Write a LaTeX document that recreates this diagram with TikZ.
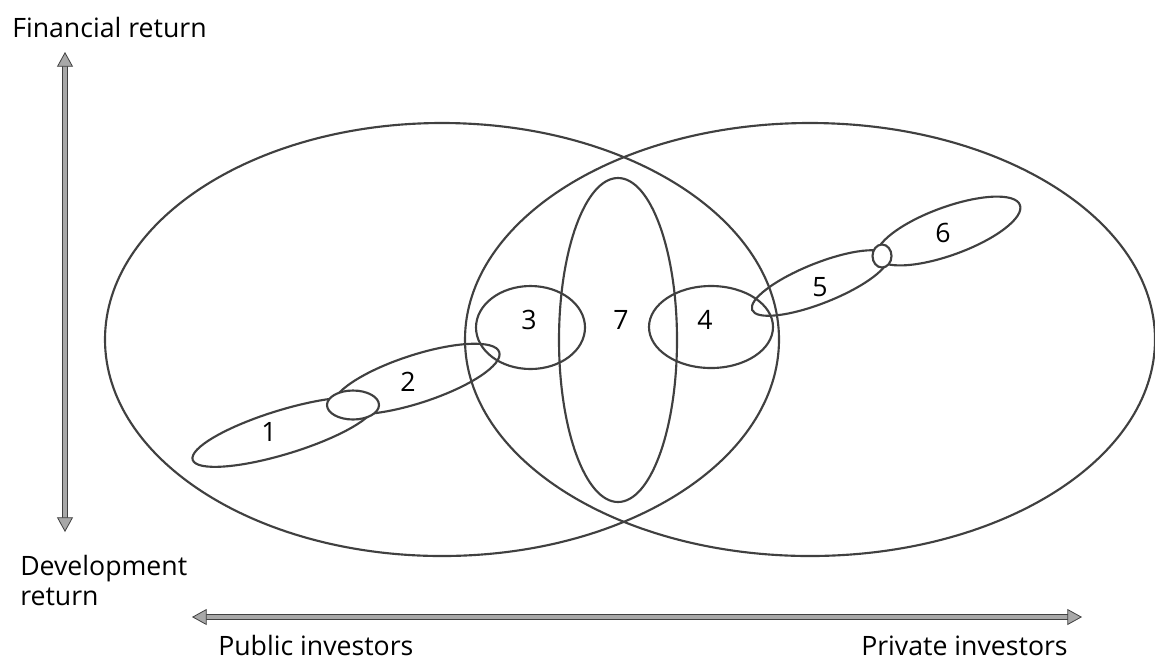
\documentclass[tikz,border=0pt]{standalone}
\usepackage{fontspec}
\setmainfont{Open Sans}
\usetikzlibrary{arrows.meta}
\definecolor{EllLine}{HTML}{404040}
\definecolor{AxisFill}{HTML}{A8A8A8}
\begin{document}
\begin{tikzpicture}[x=0.75pt,y=-0.75pt,
  ell/.style={draw=EllLine,line width=1.6pt},
  link/.style={ell,fill=white},
  axis/.style={draw=EllLine,line width=0.7pt,double=AxisFill,double distance=2.6pt,
    {Triangle[length=11pt,width=12pt,line width=0.6pt,fill=AxisFill]}-{Triangle[length=11pt,width=12pt,line width=0.6pt,fill=AxisFill]}},
  lbl/.style={font=\fontsize{20}{22.5}\selectfont,inner sep=0pt}]
\path[use as bounding box] (0,0) rectangle (1155,662);
% the two groups of investors
\draw[ell] (442,339.5) ellipse (337 and 216.5);
\draw[ell] (810,339.5) ellipse (345 and 216.5);
% overlap zone
\draw[ell] (618,340) ellipse (59 and 162);
\draw[ell] (530.5,327.5) ellipse (54.5 and 41.5);
\draw[ell] (711,327) ellipse (62 and 41);
% chain on the left
\draw[ell,rotate around={17:(283.5,432)}] (283.5,432) ellipse (95 and 22);
\draw[ell,rotate around={18:(416.5,379)}] (416.5,379) ellipse (87 and 24);
\draw[link] (353,405) ellipse (26 and 14.5);
% chain on the right
\draw[ell,rotate around={21.7:(820,283)}] (820,283) ellipse (73 and 20);
\draw[ell,rotate around={20:(948.5,231)}] (948.5,231) ellipse (76 and 24);
\draw[link] (882,256) ellipse (9.5 and 11.5);
% numbers
\node[lbl] (n1) at (269,432) {1};
\node[lbl] (n2) at (408,382) {2};
\node[lbl] (n3) at (529,320) {3};
\node[lbl] (n7) at (621,320) {7};
\node[lbl] (n4) at (705,320) {4};
\node[lbl] (n5) at (820,287) {5};
\node[lbl] (n6) at (943,233) {6};
% axes
\coordinate (ftop) at (65,52);
\coordinate (dbot) at (65,532);
\coordinate (publ) at (192,617);
\coordinate (privr) at (1082,617);
\draw[axis] (dbot) -- (ftop);
\draw[axis] (publ) -- (privr);
\node[lbl,anchor=base west] (fin) at (12,37) {Financial return};
\node[lbl,anchor=north west,align=left] (dev) at (20,555) {Development\\return};
\node[lbl,anchor=base west] (pub) at (218,655) {Public investors};
\node[lbl,anchor=base east] (priv) at (1068,655) {Private investors};
\end{tikzpicture}
\end{document}
